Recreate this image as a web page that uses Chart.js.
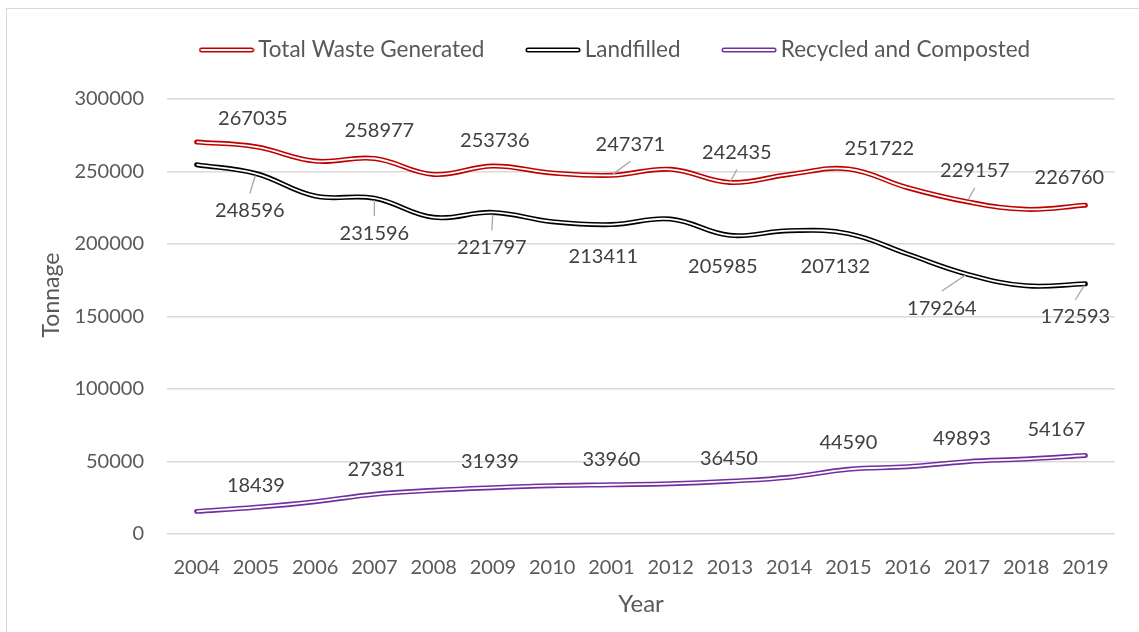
<!DOCTYPE html>
<html>
<head>
<meta charset="utf-8">
<script src="https://cdn.jsdelivr.net/npm/chart.js@4"></script>
<style>
  html, body { margin: 0; padding: 0; background: #fff; overflow: hidden; }
  #marco { position: absolute; left: 6px; top: 8px; width: 1300px; height: 800px; border: 1.5px solid #d9d9d9; }
  #contenedor { position: absolute; left: 0; top: 0; width: 1139px; height: 632px; }
</style>
</head>
<body>
<div id="marco"></div>
<div id="contenedor"><canvas id="grafico"></canvas></div>
<script>
const years = ['2004', '2005', '2006', '2007', '2008', '2009', '2010', '2001',
  '2012', '2013', '2014', '2015', '2016', '2017', '2018', '2019'];
const totalWaste = [270300, 267035, 257200, 258977, 248000, 253736, 249000, 247371,
  251500, 242435, 248000, 251722, 238800, 229157, 223900, 226760];
const landfilled = [254700, 248596, 233100, 231596, 218400, 221797, 215400, 213411,
  217200, 205985, 209200, 207132, 193100, 179264, 171200, 172593];
const recycled = [15600, 18439, 22300, 27381, 30100, 31939, 33300, 33960,
  34700, 36450, 39100, 44590, 46400, 49893, 51700, 54167];
const yTicks = [0, 50000, 100000, 150000, 200000, 250000, 300000];
const seriesNames = ['Total Waste Generated', 'Landfilled', 'Recycled and Composted'];

const FONT = 'Lato';
const GRIS = '#595959';

// donde va cada etiqueta respecto a su punto (solo puntos impares)
const colocacion = [
  { dx: [-3, 5, 2, 19, 7, 31, 8, -16], dy: [-28, -28, -26, -31, -30, -20, -31, -28],
    guia: [0, 0, 0, 1, 1, 0, 1, 0] },
  { dx: [-6, 0, -1, -8, -7, -13, -25, -10], dy: [37, 35, 35, 32, 31, 33, 34, 33],
    guia: [1, 1, 1, 0, 0, 0, 1, 1] },
  { dx: [0, 2, -3, 0, -1, 0, -5, -29], dy: [-22, -25, -26, -25, -23, -27, -23, -26],
    guia: [0, 0, 0, 0, 0, 0, 0, 0] },
];

// muestra de linea doble para la leyenda
function muestra(color) {
  const c = document.createElement('canvas');
  c.width = 56;
  c.height = 8;
  const g = c.getContext('2d');
  g.lineCap = 'round';
  g.strokeStyle = color;
  g.lineWidth = 5;
  g.beginPath(); g.moveTo(3, 4); g.lineTo(53, 4); g.stroke();
  g.strokeStyle = '#fff';
  g.lineWidth = 1.8;
  g.beginPath(); g.moveTo(3, 4); g.lineTo(53, 4); g.stroke();
  return c;
}

const colores = ['#c00000', '#000000', '#7030a0'];
const valores = [totalWaste, landfilled, recycled];

const datasets = [];
valores.forEach((data, i) => {
  datasets.push({
    label: seriesNames[i],
    data: data,
    borderColor: colores[i],
    backgroundColor: colores[i],
    borderWidth: 5,
    borderCapStyle: 'round',
    tension: 0.4,
    pointRadius: 0,
    pointStyle: muestra(colores[i]),
    order: 1,
  });
});
valores.forEach((data) => {
  datasets.push({
    label: '',
    data: data,
    borderColor: '#ffffff',
    borderWidth: 1.8,
    tension: 0.4,
    pointRadius: 0,
    order: 0,
  });
});

const etiquetas = {
  id: 'etiquetas',
  afterDatasetsDraw(chart) {
    const ctx = chart.ctx;
    ctx.save();
    ctx.font = '20px ' + FONT;
    ctx.textAlign = 'center';
    ctx.textBaseline = 'middle';
    for (let d = 0; d < 3; d++) {
      const ds = chart.data.datasets[d];
      const meta = chart.getDatasetMeta(d);
      const c = colocacion[d];
      meta.data.forEach((p, i) => {
        if (i % 2 === 0) return;
        const k = (i - 1) / 2;
        const lx = p.x + c.dx[k];
        const ly = p.y + c.dy[k];
        if (c.guia[k]) {
          const ex = lx;
          const ey = ly - Math.sign(c.dy[k]) * 17;
          const len = Math.hypot(ex - p.x, ey - p.y);
          ctx.strokeStyle = '#a6a6a6';
          ctx.lineWidth = 1.3;
          ctx.beginPath();
          ctx.moveTo(p.x + (ex - p.x) / len * 2, p.y + (ey - p.y) / len * 2);
          ctx.lineTo(ex, ey);
          ctx.stroke();
        }
        ctx.fillStyle = '#404040';
        ctx.fillText(String(ds.data[i]), lx, ly);
      });
    }
    ctx.restore();
  },
};

const tituloY = {
  id: 'tituloY',
  afterDraw(chart) {
    const ctx = chart.ctx;
    ctx.save();
    ctx.translate(52, 295);
    ctx.rotate(-Math.PI / 2);
    ctx.font = '23px ' + FONT;
    ctx.fillStyle = GRIS;
    ctx.textAlign = 'center';
    ctx.textBaseline = 'middle';
    ctx.fillText('Tonnage', 0, 0);
    ctx.restore();
  },
};

const leyenda = {
  id: 'leyenda',
  beforeInit(chart) {
    const fit = chart.legend.fit;
    chart.legend.fit = function () {
      fit.call(this);
      this.height = 99;
    };
  },
  afterLayout(chart) {
    const lg = chart.legend;
    const pad = lg.options.labels.padding;
    lg.left = 206 - pad;
    lg.top = 50 - pad - 11.25;
  },
};

new Chart(document.getElementById('grafico'), {
  type: 'line',
  data: { labels: years, datasets: datasets },
  options: {
    responsive: true,
    maintainAspectRatio: false,
    animation: false,
    layout: { padding: { left: 26, right: 24, top: 0, bottom: 0 } },
    plugins: {
      tooltip: { enabled: false },
      legend: {
        align: 'start',
        labels: {
          filter: (item) => item.datasetIndex < 3,
          usePointStyle: true,
          pointStyleWidth: 41,
          padding: 48,
          color: GRIS,
          font: { family: FONT, size: 22.5 },
        },
      },
    },
    scales: {
      x: {
        offset: true,
        grid: { display: false, drawTicks: false },
        border: { display: false },
        ticks: {
          color: GRIS,
          font: { family: FONT, size: 20 },
          padding: 22,
          maxRotation: 0,
          autoSkip: false,
        },
        title: {
          display: true,
          text: 'Year',
          color: GRIS,
          font: { family: FONT, size: 24 },
          padding: { top: 4, bottom: 13 },
        },
        afterFit: (s) => { s.height = 98; },
      },
      y: {
        min: 0,
        max: 300000,
        grid: { color: '#d9d9d9', lineWidth: 1.5, drawTicks: false },
        border: { display: false },
        afterBuildTicks: (s) => { s.ticks = yTicks.map((v) => ({ value: v })); },
        ticks: {
          color: GRIS,
          font: { family: FONT, size: 20 },
          padding: 23,
          callback: (v) => String(v),
        },
        title: { display: false },
        afterFit: (s) => { s.width = 141; },
      },
    },
  },
  plugins: [etiquetas, leyenda, tituloY],
});
</script>
</body>
</html>
